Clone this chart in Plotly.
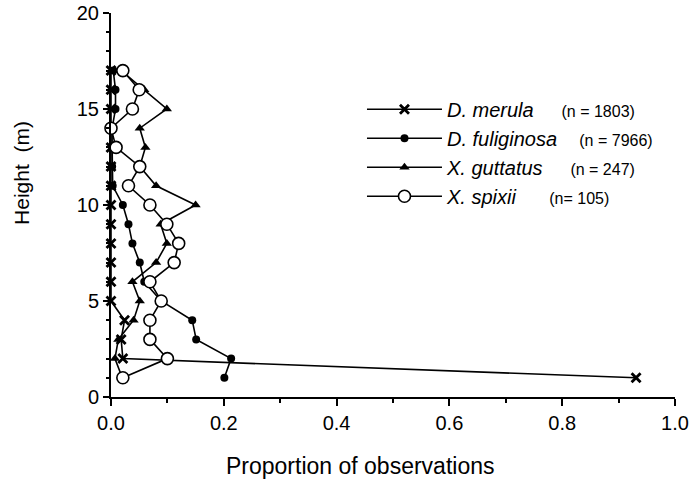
import plotly.graph_objects as go

heights = list(range(1, 18))

merula = [0.931, 0.021, 0.018, 0.024, 0.0, 0.0, 0.0, 0.0, 0.0, 0.0, 0.0, 0.0, 0.0, 0.0, 0.0, 0.0, 0.0]
fuliginosa = [0.201, 0.213, 0.151, 0.144, 0.089, 0.059, 0.051, 0.038, 0.031, 0.021, 0.003, 0.002, 0.002, 0.002, 0.008, 0.008, 0.004]
guttatus = [0.020, 0.007, 0.013, 0.040, 0.051, 0.038, 0.080, 0.099, 0.088, 0.150, 0.080, 0.051, 0.061, 0.051, 0.099, 0.059, 0.018]
spixii = [0.021, 0.100, 0.069, 0.069, 0.089, 0.069, 0.112, 0.120, 0.099, 0.069, 0.031, 0.051, 0.009, 0.000, 0.038, 0.050, 0.021]

species = ["D. merula", "D. fuliginosa", "X. guttatus", "X. spixii"]
counts = ["(n = 1803)", "(n = 7966)", "(n = 247)", "(n= 105)"]
gaps = [5, 4, 5, 6]

x_ticks = [0.0, 0.2, 0.4, 0.6, 0.8, 1.0]
x_ticklabels = ["0.0", "0.2", "0.4", "0.6", "0.8", "1.0"]
y_ticks = [0, 5, 10, 15, 20]

series = [merula, fuliginosa, guttatus, spixii]
markers = [
    dict(symbol="x-thin", size=9, line=dict(color="black", width=2.8), color="black"),
    dict(symbol="circle", size=8, color="black"),
    dict(symbol="triangle-up", size=9, color="black"),
    dict(symbol="circle", size=12, color="white", line=dict(color="black", width=1.6)),
]

fig = go.Figure()
for i, (vals, name, n, g, mk) in enumerate(zip(series, species, counts, gaps, markers)):
    label = "<i>" + name + "</i>" + "\u00a0" * g + "<span style='font-size:16px'>" + n + "</span>"
    fig.add_trace(go.Scatter(
        x=vals, y=heights, mode="lines+markers", name=label,
        line=dict(color="black", width=1.6), marker=mk,
        cliponaxis=False, legendgroup=str(i),
    ))

font_family = "Liberation Sans, Arial, sans-serif"
fig.update_layout(
    width=689, height=484,
    margin=dict(l=111, r=14, t=13, b=87),
    paper_bgcolor="white", plot_bgcolor="white",
    font=dict(family=font_family, color="black", size=20),
    showlegend=True,
    legend=dict(x=0.445, y=0.80, xanchor="left", yanchor="top",
                font=dict(size=20, family=font_family), itemwidth=75,
                tracegroupgap=0, bgcolor="rgba(0,0,0,0)"),
    xaxis=dict(range=[0, 1.0], tickvals=x_ticks, ticktext=x_ticklabels,
               automargin=False,
               showline=True, linecolor="black", linewidth=2,
               ticks="outside", ticklen=7, tickwidth=2, tickcolor="black",
               minor=dict(dtick=0.1, ticks="outside", ticklen=4, tickwidth=2, tickcolor="black"),
               showgrid=False, zeroline=False, tickfont=dict(size=20)),
    yaxis=dict(range=[0, 20], tickvals=y_ticks, automargin=False,
               showline=True, linecolor="black", linewidth=2,
               ticks="outside", ticklen=6, tickwidth=2, tickcolor="black",
               minor=dict(dtick=1, ticks="outside", ticklen=3, tickwidth=1.5, tickcolor="black"),
               showgrid=False, zeroline=False, tickfont=dict(size=20)),
    annotations=[
        dict(text="Proportion of observations", xref="paper", yref="paper",
             x=0.443, y=-0.18, xanchor="center", yanchor="middle", showarrow=False,
             font=dict(size=23)),
        dict(text="Height\u00a0 (m)", xref="paper", yref="paper",
             x=-0.16, y=0.583, xanchor="center", yanchor="middle", showarrow=False,
             textangle=-90, font=dict(size=21)),
    ],
)

fig.write_html("out.html")
